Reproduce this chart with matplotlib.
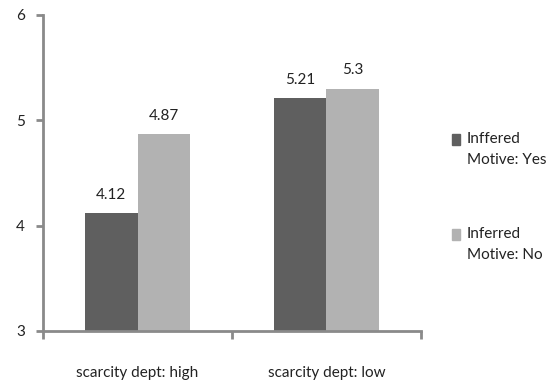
import numpy as np
import matplotlib
matplotlib.use('Agg')
import matplotlib.pyplot as plt
from matplotlib.patches import Rectangle

DPI = 100

categories = ['scarcity dept: high', 'scarcity dept: low']
motive_yes = [4.12, 5.21]
motive_no = [4.87, 5.3]
series_labels = ['Inffered\nMotive: Yes', 'Inferred\nMotive: No']
yticks = [3, 4, 5, 6]

dark = '#5f5f5f'
light = '#b2b2b2'
axis_grey = '#8a8a8a'
text_col = '#222222'

plt.rcParams['font.family'] = ['Lato', 'DejaVu Sans']
plt.rcParams['font.size'] = 11

fig = plt.figure(figsize=(5.53, 3.80), dpi=DPI)
ax = fig.add_axes([0.078, 0.129, 0.683, 0.832])

x = np.arange(len(categories))
w = 0.28
colors = [dark, light]
for k, (vals, off) in enumerate(((motive_yes, -w / 2), (motive_no, w / 2))):
    vals = np.array(vals)
    ax.bar(x + off, vals - 3, w, bottom=3, color=colors[k])
    for xi, v in zip(x + off, vals):
        ax.annotate('%g' % v, (xi, v), xytext=(0, 8), textcoords='offset points',
                    ha='center', va='bottom', fontsize=11, color=text_col)

ax.set_xlim(-0.5, 1.5)
ax.set_ylim(3, 6)
ax.set_yticks(yticks)
ax.set_xticks(x)
ax.set_xticklabels(categories)
ax.set_xticks([-0.5, 0.5, 1.5], minor=True)
ax.tick_params(axis='x', which='major', length=0, pad=25, labelsize=11, labelcolor=text_col)
ax.tick_params(axis='x', which='minor', length=6, width=2, color=axis_grey)
ax.tick_params(axis='y', length=5, width=2, color=axis_grey, pad=8, labelsize=11,
               labelcolor=text_col)

for side in ('top', 'right'):
    ax.spines[side].set_visible(False)
for side in ('left', 'bottom'):
    ax.spines[side].set_color(axis_grey)
    ax.spines[side].set_linewidth(2)

# legend entries: small square next to the first line of a two-line label
for label, col, ytop in zip(series_labels, colors, [134, 229]):
    fy = 1 - ytop / 380
    fig.patches.append(Rectangle((452 / 553, fy - 11 / 380), 8 / 553, 11 / 380,
                                 transform=fig.transFigure, color=col))
    fig.text(467 / 553, fy + 2 / 380, label, ha='left', va='top', fontsize=11,
             linespacing=1.6, color=text_col)

fig.savefig('out.png', dpi=DPI)
